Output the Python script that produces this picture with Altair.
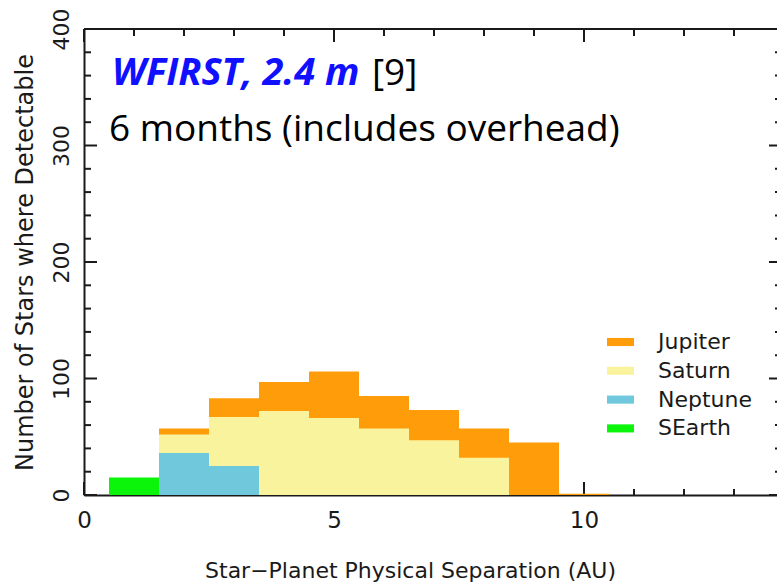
import altair as alt
import pandas as pd

# Histogram bins (AU), one unit wide, centred on the integers
bin_centers = [1, 2, 3, 4, 5, 6, 7, 8, 9, 10]
bin_width = 1.0

# Number of stars where each planet type is detectable, per bin
jupiter = [0, 57, 83, 97, 106, 85, 73, 57, 45, 1]
saturn = [0, 52, 67, 72, 66, 57, 47, 32, 0, 0]
neptune = [0, 36, 25, 0, 0, 0, 0, 0, 0, 0]
searth = [15, 0, 0, 0, 0, 0, 0, 0, 0, 0]

planets = ["Jupiter", "Saturn", "Neptune", "SEarth"]
colors = ["#FF9C0A", "#FAF39D", "#70C8DC", "#0BF50B"]

# Axis ticks
y_major = [0, 100, 200, 300, 400]
y_minor = [20, 40, 60, 80, 120, 140, 160, 180, 220, 240, 260, 280, 320, 340, 360, 380]
x_major = [0, 5, 10]
x_minor = [1, 2, 3, 4, 6, 7, 8, 9, 11, 12, 13]

W, H = 693, 466
FONT = "DejaVu Sans"
INK = "#1a1a1a"

rows = []
for name, series in zip(planets, [jupiter, saturn, neptune, searth]):
    for c, v in zip(bin_centers, series):
        if v > 0:
            rows.append({"planet": name, "lo": c - bin_width / 2,
                         "hi": c + bin_width / 2, "count": v})
bars_df = pd.DataFrame(rows)
bars_df["order"] = bars_df["planet"].map({p: i for i, p in enumerate(planets)})

xscale = alt.Scale(domain=[0, 13.86], nice=False, zero=False)
yscale = alt.Scale(domain=[0, 400], nice=False, zero=False)

# One axis definition shared by every layer, so the merged axes agree
x_axis = alt.Axis(values=x_major, format="d", ticks=False, tickSize=0,
                  grid=False, domain=True, domainColor=INK, domainWidth=2,
                  labelFont=FONT, labelFontSize=23, labelColor=INK,
                  labelPadding=32, labelBaseline="alphabetic", labelFlush=False,
                  title="Star\u2212Planet Physical Separation (AU)",
                  titleFont=FONT, titleFontSize=22, titleFontWeight="normal",
                  titleColor=INK, titleX=326, titleY=82,
                  titleAlign="center", titleBaseline="alphabetic")
y_axis = alt.Axis(values=y_major, format="d", ticks=False, tickSize=0,
                  grid=False, domain=True, domainColor=INK, domainWidth=2,
                  labelFont=FONT, labelFontSize=22, labelColor=INK,
                  labelAngle=270, labelAlign="center", labelFlush=False,
                  labelBaseline="alphabetic", labelPadding=16,
                  title="Number of Stars where Detectable",
                  titleFont=FONT, titleFontSize=24, titleFontWeight="normal",
                  titleColor=INK, titleAngle=270, titleX=-52, titleY=233,
                  titleAlign="center", titleBaseline="alphabetic")

def vticks(vals, x0, x1):
    return alt.Chart(pd.DataFrame({"count": vals})).mark_rule(
        color=INK, strokeWidth=2).encode(
        y=alt.Y("count:Q", scale=yscale, axis=y_axis),
        x=alt.value(x0), x2=alt.value(x1))

def hticks(vals, y0, y1):
    return alt.Chart(pd.DataFrame({"lo": vals})).mark_rule(
        color=INK, strokeWidth=2).encode(
        x=alt.X("lo:Q", scale=xscale, axis=x_axis),
        y=alt.value(y0), y2=alt.value(y1))

tick_layers = [
    vticks(y_major, 0, 13), vticks(y_minor, 0, 7),
    vticks(y_major, W - 8, W), vticks(y_minor, W - 2, W),
    hticks(x_major, 0, 13), hticks(x_minor, 0, 7),
    hticks(x_major, H - 13, H), hticks(x_minor, H - 6, H),
]

top_border = alt.Chart(pd.DataFrame({"k": [0]})).mark_rule(
    color=INK, strokeWidth=2).encode(
    x=alt.value(0), x2=alt.value(W), y=alt.value(0))

bars = alt.Chart(bars_df).mark_rect().encode(
    x=alt.X("lo:Q", scale=xscale, axis=x_axis),
    x2="hi:Q",
    y=alt.Y("count:Q", scale=yscale, axis=y_axis),
    y2=alt.datum(0),
    color=alt.Color("planet:N",
                    scale=alt.Scale(domain=planets, range=colors),
                    legend=alt.Legend(title=None, orient="none",
                                      legendX=523, legendY=299.5,
                                      symbolType="M-1,-0.3H1V0.3H-1Z",
                                      symbolSize=729, symbolStrokeWidth=0,
                                      labelFont=FONT, labelFontSize=22,
                                      labelColor=INK, labelOffset=24,
                                      rowPadding=3.8, padding=0)),
    order=alt.Order("order:Q"),
)

title_main = alt.Chart(pd.DataFrame({"t": ["WFIRST, 2.4 m"]})).mark_text(
    font="Open Sans", fontSize=38, fontWeight="bold", fontStyle="italic",
    color="#1010FF", align="left", baseline="alphabetic").encode(
    text="t:N", x=alt.value(28), y=alt.value(56))

title_ref = alt.Chart(pd.DataFrame({"t": ["[9]"]})).mark_text(
    font="Open Sans", fontSize=37, color="#000000",
    align="left", baseline="alphabetic").encode(
    text="t:N", x=alt.value(288), y=alt.value(56))

subtitle = alt.Chart(pd.DataFrame({"t": ["6 months (includes overhead)"]})).mark_text(
    font="Open Sans", fontSize=37, color="#000000",
    align="left", baseline="alphabetic").encode(
    text="t:N", x=alt.value(25), y=alt.value(112))

chart = alt.layer(*tick_layers, top_border, bars, title_main, title_ref, subtitle).properties(
    width=W, height=H,
    autosize=alt.AutoSizeParams(type="none"),
    padding={"left": 84, "top": 29, "right": 0, "bottom": 90},
).configure_view(stroke=None).configure(background="white")

chart.save("out.html", embed_options={"renderer": "svg", "actions": False})
